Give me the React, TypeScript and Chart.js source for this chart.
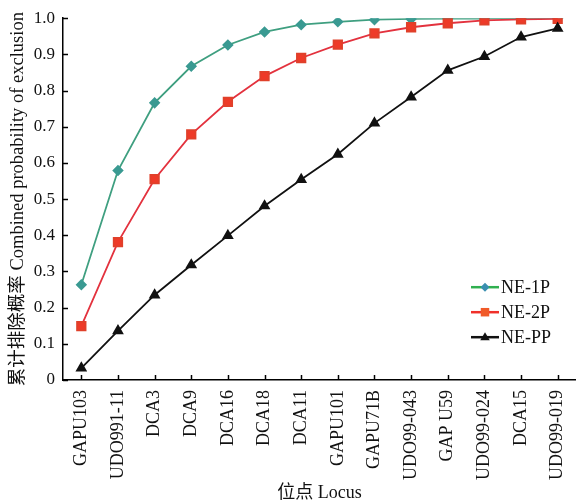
import { useEffect, useRef } from 'react';
import { Chart, registerables } from 'chart.js';

Chart.register(...registerables);

const categories = [
  'GAPU103', 'UDO991-11', 'DCA3', 'DCA9', 'DCA16', 'DCA18', 'DCA11',
  'GAPU101', 'GAPU71B', 'UDO99-043', 'GAP U59', 'UDO99-024', 'DCA15', 'UDO99-019',
];
const ne1p = [0.263, 0.579, 0.766, 0.867, 0.926, 0.962, 0.982, 0.990, 0.996, 0.998, 0.999, 0.999, 1.0, 1.0];
const ne2p = [0.149, 0.381, 0.555, 0.679, 0.769, 0.840, 0.890, 0.927, 0.958, 0.975, 0.986, 0.994, 0.997, 0.998];
const nepp = [0.033, 0.136, 0.235, 0.318, 0.399, 0.481, 0.554, 0.624, 0.710, 0.782, 0.856, 0.894, 0.948, 0.972];
const seriesNames = ['NE-1P', 'NE-2P', 'NE-PP'];
const yTitle = '累计排除概率 Combined probability of exclusion';
const xTitle = '位点 Locus';

const FONT = "'Liberation Serif', 'Noto Sans CJK SC', serif";

const GREEN_LINE = '#3f9f80';
const GREEN_PT = '#3a9a92';
const RED_LINE = '#e3323e';
const RED_PT = '#ee3a28';
const BLACK = '#111111';

function drawShape(ctx: CanvasRenderingContext2D, style: string, x: number, y: number, r: number, color: string) {
  ctx.save();
  ctx.fillStyle = color;
  ctx.beginPath();
  if (style === 'rectRot') {
    ctx.moveTo(x, y - r);
    ctx.lineTo(x + r, y);
    ctx.lineTo(x, y + r);
    ctx.lineTo(x - r, y);
    ctx.closePath();
  } else if (style === 'rect') {
    const s = r * Math.SQRT1_2;
    ctx.rect(x - s, y - s, 2 * s, 2 * s);
  } else {
    ctx.moveTo(x, y - r);
    ctx.lineTo(x + r * 0.95, y + r * 0.6);
    ctx.lineTo(x - r * 0.95, y + r * 0.6);
    ctx.closePath();
  }
  ctx.fill();
  ctx.restore();
}

const inwardTicks = {
  id: 'inwardTicks',
  afterDraw(chart: any) {
    const { ctx, chartArea, scales } = chart;
    ctx.save();
    ctx.strokeStyle = '#000';
    ctx.lineWidth = 1.5;
    const ys = scales.y;
    ys.ticks.forEach((t: any) => {
      const py = Math.round(ys.getPixelForValue(t.value)) + 0.5;
      ctx.beginPath();
      ctx.moveTo(chartArea.left, py);
      ctx.lineTo(chartArea.left + 5, py);
      ctx.stroke();
    });
    const xs = scales.x;
    categories.forEach((_, i) => {
      const px = Math.round(xs.getPixelForValue(i)) + 0.5;
      ctx.beginPath();
      ctx.moveTo(px, chartArea.bottom);
      ctx.lineTo(px, chartArea.bottom - 5);
      ctx.stroke();
    });
    ctx.restore();
  },
};

const customLegend = {
  id: 'customLegend',
  afterDraw(chart: any) {
    const { ctx, chartArea } = chart;
    const items = [
      { label: seriesNames[0], line: '#30b050', pt: '#3a8fb0', style: 'rectRot', r: 4.5 },
      { label: seriesNames[1], line: '#f0302a', pt: '#f05a28', style: 'rect', r: 6 },
      { label: seriesNames[2], line: BLACK, pt: BLACK, style: 'triangle', r: 5 },
    ];
    const x0 = chartArea.left + 408;
    const x1 = x0 + 28;
    ctx.save();
    ctx.font = `18px ${FONT}`;
    ctx.textBaseline = 'middle';
    ctx.textAlign = 'left';
    items.forEach((it, i) => {
      const y = chartArea.top + 269 + i * 25;
      ctx.strokeStyle = it.line;
      ctx.lineWidth = 2.5;
      ctx.beginPath();
      ctx.moveTo(x0, y);
      ctx.lineTo(x1, y);
      ctx.stroke();
      drawShape(ctx, it.style, (x0 + x1) / 2, y, it.r, it.pt);
      ctx.fillStyle = '#111';
      ctx.fillText(it.label, x1 + 2, y + 1);
    });
    ctx.restore();
  },
};

export default function App() {
  const ref = useRef<HTMLCanvasElement | null>(null);
  useEffect(() => {
    if (!ref.current) return;
    const chart = new Chart(ref.current, {
      type: 'line',
      data: {
        labels: categories,
        datasets: [
          {
            label: seriesNames[0], data: ne1p, borderColor: GREEN_LINE, backgroundColor: GREEN_PT,
            pointBackgroundColor: GREEN_PT, pointBorderColor: GREEN_PT, pointStyle: 'rectRot',
            pointRadius: 4.5, borderWidth: 1.8, tension: 0, order: 2,
          },
          {
            label: seriesNames[1], data: ne2p, borderColor: RED_LINE, backgroundColor: RED_PT,
            pointBackgroundColor: RED_PT, pointBorderColor: '#e0402a', pointStyle: 'rect',
            pointRadius: 6, borderWidth: 1.8, tension: 0, order: 1,
          },
          {
            label: seriesNames[2], data: nepp, borderColor: BLACK, backgroundColor: BLACK,
            pointBackgroundColor: BLACK, pointBorderColor: BLACK, pointStyle: 'triangle',
            pointRadius: 5, borderWidth: 1.8, tension: 0, order: 0,
          },
        ],
      },
      options: {
        responsive: false,
        animation: false,
        layout: { autoPadding: false, padding: { top: 18, right: 0, left: 0, bottom: 0 } },
        plugins: { legend: { display: false }, tooltip: { enabled: false } },
        scales: {
          x: {
            offset: true,
            grid: { display: true, drawOnChartArea: false, drawTicks: false },
            border: { display: true, color: '#000', width: 1.5 },
            ticks: {
              color: '#111', font: { family: FONT, size: 18 }, maxRotation: 90, minRotation: 90,
              padding: 10, autoSkip: false,
            },
            title: { display: true, text: xTitle, color: '#111', font: { family: FONT, size: 18 }, padding: { top: 0, bottom: 0 } },
            afterFit: (s: any) => { s.height = 124; s.paddingRight = 0; s.paddingLeft = 0; },
          },
          y: {
            min: 0, max: 1,
            grid: { display: true, drawOnChartArea: false, drawTicks: false },
            border: { display: true, color: '#000', width: 1.5 },
            ticks: {
              stepSize: 0.1, color: '#111', font: { family: FONT, size: 17 }, padding: 8,
              callback: (v: any) => (Number(v) === 0 ? '0' : Number(v).toFixed(1)),
            },
            title: { display: true, text: yTitle, color: '#111', font: { family: FONT, size: 18.5 }, padding: { top: 7, bottom: 0 } },
            afterFit: (s: any) => { s.width = 63; },
          },
        },
      },
      plugins: [inwardTicks, customLegend],
    });
    return () => chart.destroy();
  }, []);
  return (
    <div style={{ position: 'absolute', left: 0, top: 0, width: 576, height: 504, background: '#fff' }}>
      <canvas ref={ref} width={576} height={504} style={{ width: 576, height: 504 }} />
    </div>
  );
}
